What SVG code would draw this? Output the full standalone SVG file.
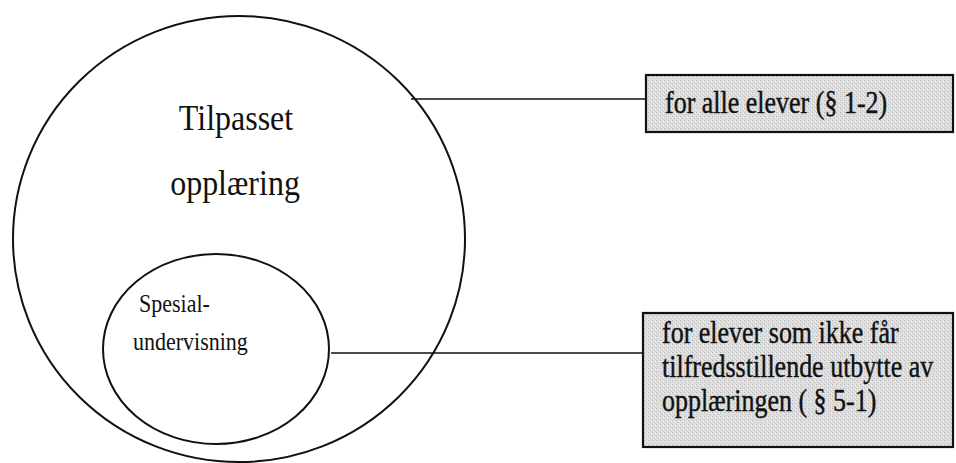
<svg xmlns="http://www.w3.org/2000/svg" width="956" height="463" viewBox="0 0 956 463">
  <style>
    .ring { fill: none; stroke: #111; stroke-width: 2; }
    .box { fill: #d9d9d9; stroke: #111; stroke-width: 2.2; }
    .link { stroke: #111; stroke-width: 1.6; fill: none; }
    .serif { font-family: "Liberation Serif", "Times New Roman", serif; fill: #111; }
    .big { font-size: 32px; }
    .small { font-size: 22px; }
    .note { font-size: 26px; stroke: #111; stroke-width: 0.35; }
  </style>
  <defs>
    <pattern id="grain" width="4" height="4" patternUnits="userSpaceOnUse">
      <rect width="4" height="4" fill="#dedede"/>
      <rect x="0" y="0" width="1" height="1" fill="#b8b8b8"/>
      <rect x="2" y="2" width="1" height="1" fill="#c4c4c4"/>
      <rect x="3" y="1" width="1" height="1" fill="#f2f2f2"/>
    </pattern>
  </defs>
  <rect width="956" height="463" fill="#fff"/>

  <!-- connectors from the circles to the explanatory boxes -->
  <g id="connectors">
    <line class="link" x1="411" y1="99" x2="646" y2="99"/>
    <line class="link" x1="331" y1="353" x2="643" y2="353"/>
  </g>

  <g id="tilpasset">
    <ellipse class="ring" cx="239" cy="239" rx="226" ry="223"/>
    <text class="serif big" transform="translate(236,130) scale(1,1.15)" text-anchor="middle">Tilpasset</text>
    <text class="serif big" transform="translate(235,195) scale(1,1.15)" text-anchor="middle">opplæring</text>
  </g>

  <g id="spesial">
    <ellipse class="ring" cx="216" cy="349" rx="113" ry="95"/>
    <text class="serif small" transform="translate(139,312) scale(1,1.1)">Spesial-</text>
    <text class="serif small" transform="translate(133,350) scale(1,1.1)">undervisning</text>
  </g>

  <g id="alle">
    <rect class="box" x="646" y="75" width="307" height="57" style="fill:url(#grain)"/>
    <text class="serif note" transform="translate(665,113) scale(1,1.18)">for alle elever (§ 1-2)</text>
  </g>

  <g id="elever">
    <rect class="box" x="643" y="313" width="310" height="134" style="fill:url(#grain)"/>
    <text class="serif note" transform="translate(662,343) scale(1,1.18)">for elever som ikke får</text>
    <text class="serif note" transform="translate(662,377) scale(1,1.18)">tilfredsstillende utbytte av</text>
    <text class="serif note" transform="translate(662,411) scale(1,1.18)">opplæringen ( § 5-1)</text>
  </g>
</svg>
